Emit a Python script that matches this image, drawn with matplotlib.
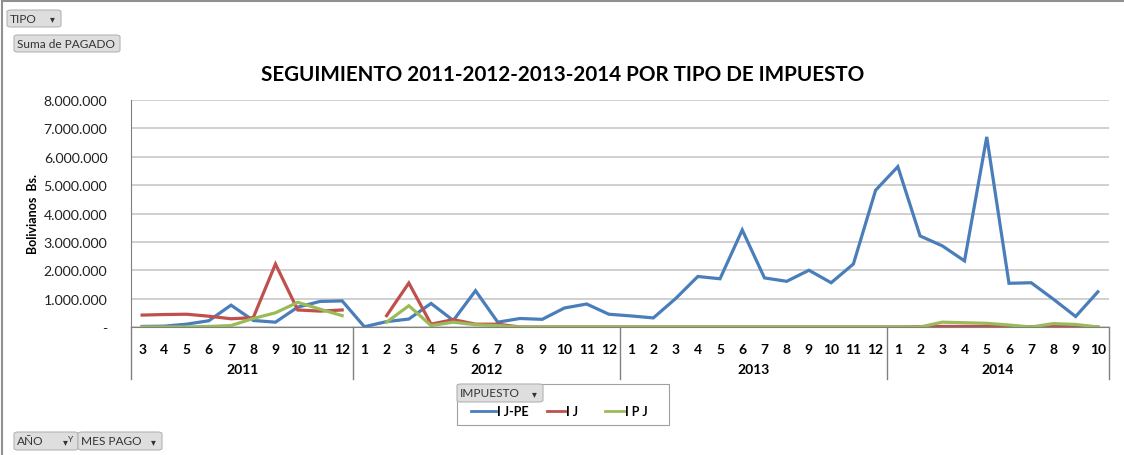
import numpy as np
import matplotlib
matplotlib.use("Agg")
import matplotlib.pyplot as plt
from matplotlib.patches import FancyBboxPatch, Rectangle
from matplotlib.lines import Line2D
from matplotlib.ticker import FuncFormatter

plt.rcParams['font.family'] = ['Lato', 'DejaVu Sans']

# data (millions of Bs.)
years = ["2011", "2012", "2013", "2014"]
months = [list(range(3, 13)), list(range(1, 13)), list(range(1, 13)), list(range(1, 11))]

ij_pe = [0.02, 0.03, 0.10, 0.22, 0.77, 0.23, 0.17, 0.70, 0.90, 0.92,
         0.01, 0.19, 0.28, 0.83, 0.23, 1.28, 0.17, 0.30, 0.27, 0.67, 0.81, 0.45,
         0.39, 0.32, 1.00, 1.78, 1.70, 3.42, 1.73, 1.61, 2.00, 1.56, 2.22, 4.82,
         5.65, 3.21, 2.86, 2.33, 6.70, 1.54, 1.56, 0.98, 0.37, 1.24]
ij = [0.42, 0.44, 0.45, 0.38, 0.29, 0.33, 2.22, 0.60, 0.56, 0.60,
      np.nan, 0.40, 1.55, 0.10, 0.26, 0.10, 0.10, 0.0, 0.0, 0.0, 0.0, 0.0,
      0.0, 0.0, 0.0, 0.0, 0.0, 0.0, 0.0, 0.0, 0.0, 0.0, 0.0, 0.0,
      0.0, 0.01, 0.02, 0.02, 0.02, 0.02, 0.01, 0.02, 0.02, 0.0]
ipj = [0.0, 0.0, 0.0, 0.02, 0.05, 0.30, 0.50, 0.87, 0.63, 0.40,
       np.nan, 0.17, 0.75, 0.05, 0.17, 0.08, 0.05, 0.0, 0.0, 0.0, 0.0, 0.0,
       0.0, 0.0, 0.0, 0.0, 0.0, 0.0, 0.0, 0.0, 0.0, 0.0, 0.0, 0.0,
       0.0, 0.0, 0.17, 0.15, 0.13, 0.07, 0.0, 0.12, 0.09, 0.0]

series = [("I J-PE", ij_pe, "#4a7ebb"), ("I J", ij, "#c0504d"), ("I P J", ipj, "#9bbb59")]

W, H = 1124, 456
fig = plt.figure(figsize=(W / 100, H / 100), dpi=100)


def fx(px):
    return px / W


def fy(py):
    return 1 - py / H


ax = fig.add_axes([fx(131), fy(328), fx(1109) - fx(131), fy(101) - fy(328)])
n = sum(len(m) for m in months)
x = np.arange(n)
for name, vals, col in series:
    ax.plot(x, np.array(vals) * 1e6, color=col, lw=2.3, solid_joinstyle="miter")

ax.set_xlim(-0.5, n - 0.5)
ax.set_ylim(0, 8e6)
ax.set_yticks(np.arange(0, 8.01e6, 1e6))
ax.yaxis.set_major_formatter(FuncFormatter(
    lambda v, p: "-" if v == 0 else f"{int(v):,}".replace(",", ".")))
ax.tick_params(axis="y", length=0, pad=17, labelsize=10.2, labelcolor="#222222")
ax.set_xticks([])
ax.grid(axis="y", color="#c8c8c8", lw=1.2)
ax.set_axisbelow(True)
for s in ["top", "right"]:
    ax.spines[s].set_visible(False)
ax.spines["left"].set_color("#808080")
ax.spines["bottom"].set_color("#808080")
ax.set_ylabel("Bolivianos  Bs.", fontsize=9, fontweight="bold")
ax.yaxis.set_label_coords(-0.094, 0.5)

# two-level category axis
tr = ax.get_xaxis_transform()
i = 0
bounds = [-0.5]
for yr, ms in zip(years, months):
    for m in ms:
        ax.text(i, -0.095, str(m), transform=tr, ha="center", va="center",
                fontsize=10, fontweight="bold")
        i += 1
    bounds.append(i - 0.5)
    ax.text((bounds[-2] + bounds[-1]) / 2, -0.183, yr, transform=tr, ha="center",
            va="center", fontsize=10, fontweight="bold")
for b in bounds:
    ax.add_line(Line2D([b, b], [0, -0.229], transform=tr, color="#808080",
                       lw=1, clip_on=False))

fig.text(fx(563), fy(75), "SEGUIMIENTO 2011-2012-2013-2014 POR TIPO DE IMPUESTO",
         ha="center", va="center", fontsize=14.9, fontweight="bold")

# outer frame
fig.add_artist(Line2D([fx(2), 1], [fy(2), fy(2)], color="#909090", lw=1.5))
fig.add_artist(Line2D([fx(2), fx(2)], [0, fy(2)], color="#909090", lw=1.5))


def button(x0, y0, x1, y1, label, arrow=True):
    fig.add_artist(FancyBboxPatch((fx(x0), fy(y1)), fx(x1 - x0), (y1 - y0) / H,
                                  boxstyle="round,pad=0,rounding_size=0.004",
                                  fc="#dedede", ec="#b4b4b4", lw=0.8))
    fig.text(fx(x0 + 3), fy((y0 + y1) / 2), label, ha="left", va="center",
             fontsize=8.6, color="#333333")
    if arrow:
        fig.text(fx(x1 - 9), fy((y0 + y1) / 2), "▾", ha="center", va="center",
                 fontsize=7, color="#333333", family="DejaVu Sans")


button(7, 11, 61, 28, "TIPO")
button(14, 36, 120, 53, "Suma de PAGADO", arrow=False)

# legend
fig.add_artist(Rectangle((fx(457), fy(426)), fx(669 - 457), (426 - 385) / H,
                         fill=False, ec="#a0a0a0", lw=0.8))
button(457, 385, 543, 403, "IMPUESTO")
for (name, vals, col), (lx0, lx1) in zip(series, [(471, 496), (547, 565), (605, 624)]):
    fig.add_artist(Line2D([fx(lx0), fx(lx1)], [fy(412), fy(412)], color=col, lw=2))
    fig.text(fx(lx1 + 1), fy(412), name, ha="left", va="center",
             fontsize=9, fontweight="bold")

button(14, 433, 78, 451, "AÑO", arrow=False)
fig.text(fx(65), fy(442), "▾", ha="center", va="center", fontsize=7,
         color="#333333", family="DejaVu Sans")
fig.text(fx(71), fy(440), "Y", ha="center", va="center", fontsize=6, color="#333333")
button(78, 433, 162, 451, "MES PAGO")

fig.savefig("out.png", dpi=100)
